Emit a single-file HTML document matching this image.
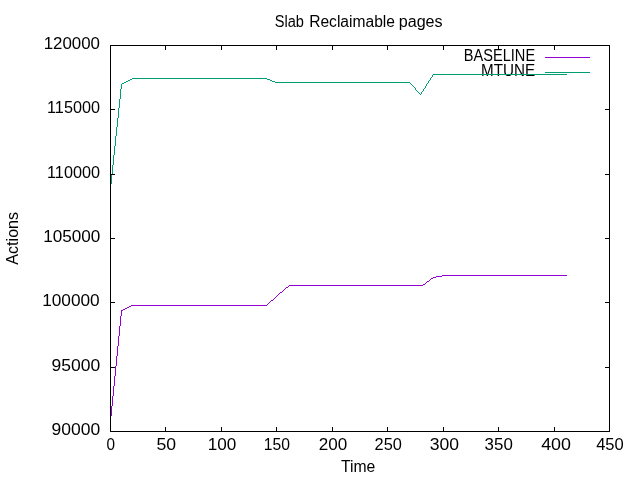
<!DOCTYPE html>
<html>
<head>
<meta charset="utf-8">
<title>Slab Reclaimable pages</title>
<style>
html,body{margin:0;padding:0;background:#fff;}
body{width:640px;height:480px;overflow:hidden;}
svg{display:block;will-change:transform;}
text{font-family:"Liberation Sans",sans-serif;fill:#000;}
</style>
</head>
<body>
<svg width="640" height="480" viewBox="0 0 640 480">
<rect x="0" y="0" width="640" height="480" fill="#ffffff"/>
<!-- title and axis labels -->
<text x="274.78" y="27.00" font-size="16" textLength="29.20" lengthAdjust="spacingAndGlyphs">Slab</text>
<text x="309.20" y="27.00" font-size="16" textLength="85.76" lengthAdjust="spacingAndGlyphs">Reclaimable</text>
<text x="398.72" y="27.00" font-size="16" textLength="43.88" lengthAdjust="spacingAndGlyphs">pages</text>
<text x="340.97" y="471.80" font-size="16" textLength="34.37" lengthAdjust="spacingAndGlyphs">Time</text>
<text transform="translate(18.30,264.64) rotate(-90)" font-size="16" textLength="52.68" lengthAdjust="spacingAndGlyphs">Actions</text>
<!-- y tick labels -->
<text x="51.61" y="434.70" font-size="16" textLength="48.68" lengthAdjust="spacingAndGlyphs">90000</text>
<text x="51.61" y="370.70" font-size="16" textLength="48.68" lengthAdjust="spacingAndGlyphs">95000</text>
<text x="42.15" y="305.70" font-size="16" textLength="57.50" lengthAdjust="spacingAndGlyphs">100000</text>
<text x="43.25" y="241.70" font-size="16" textLength="57.08" lengthAdjust="spacingAndGlyphs">105000</text>
<text x="47.05" y="177.70" font-size="16" textLength="52.91" lengthAdjust="spacingAndGlyphs">110000</text>
<text x="47.05" y="112.70" font-size="16" textLength="52.91" lengthAdjust="spacingAndGlyphs">115000</text>
<text x="43.67" y="48.70" font-size="16" textLength="56.33" lengthAdjust="spacingAndGlyphs">120000</text>
<!-- x tick labels -->
<text x="106.41" y="449.50" font-size="16" textLength="8.50" lengthAdjust="spacingAndGlyphs">0</text>
<text x="156.40" y="449.50" font-size="16" textLength="19.60" lengthAdjust="spacingAndGlyphs">50</text>
<text x="207.75" y="449.50" font-size="16" textLength="28.52" lengthAdjust="spacingAndGlyphs">100</text>
<text x="263.73" y="449.50" font-size="16" textLength="26.15" lengthAdjust="spacingAndGlyphs">150</text>
<text x="318.76" y="449.50" font-size="16" textLength="28.45" lengthAdjust="spacingAndGlyphs">200</text>
<text x="374.59" y="449.50" font-size="16" textLength="27.30" lengthAdjust="spacingAndGlyphs">250</text>
<text x="429.66" y="449.50" font-size="16" textLength="29.29" lengthAdjust="spacingAndGlyphs">300</text>
<text x="484.62" y="449.50" font-size="16" textLength="28.17" lengthAdjust="spacingAndGlyphs">350</text>
<text x="541.15" y="449.50" font-size="16" textLength="29.81" lengthAdjust="spacingAndGlyphs">400</text>
<text x="596.17" y="449.50" font-size="16" textLength="27.60" lengthAdjust="spacingAndGlyphs">450</text>
<!-- series 1: BASELINE -->
<text x="463.77" y="60.50" font-size="16" textLength="71.37" lengthAdjust="spacingAndGlyphs">BASELINE</text>
<path shape-rendering="crispEdges" fill="#9400d3" d="M110 416h1v6h-1zM111 406h1v10h-1zM112 396h1v10h-1zM113 386h1v10h-1zM114 376h1v10h-1zM115 366h1v10h-1zM116 356h1v10h-1zM117 346h1v10h-1zM118 336h1v10h-1zM119 326h1v10h-1zM120 316h1v10h-1zM121 310h2v1h-2zM121 311h1v5h-1zM123 309h2v1h-2zM125 308h2v1h-2zM127 307h2v1h-2zM129 306h2v1h-2zM131 305h136v1h-136zM267 304h1v1h-1zM268 303h1v1h-1zM269 302h1v1h-1zM270 301h1v1h-1zM271 300h2v1h-2zM273 299h1v1h-1zM274 298h1v1h-1zM275 297h1v1h-1zM276 296h1v1h-1zM277 295h1v1h-1zM278 294h1v1h-1zM279 293h1v1h-1zM280 292h2v1h-2zM282 291h1v1h-1zM283 290h1v1h-1zM284 289h1v1h-1zM285 288h1v1h-1zM286 287h2v1h-2zM288 286h1v1h-1zM289 285h134v1h-134zM423 284h2v1h-2zM425 283h1v1h-1zM426 282h1v1h-1zM427 281h2v1h-2zM429 280h1v1h-1zM430 279h1v1h-1zM431 278h2v1h-2zM433 277h3v1h-3zM436 276h6v1h-6zM442 275h125v1h-125zM545 57h45v1h-45z"/>
<!-- series 2: MTUNE -->
<text x="480.98" y="75.50" font-size="16" textLength="54.08" lengthAdjust="spacingAndGlyphs">MTUNE</text>
<path shape-rendering="crispEdges" fill="#009e73" d="M110 184h1v5h-1zM111 174h1v10h-1zM112 165h1v9h-1zM113 155h1v10h-1zM114 146h1v9h-1zM115 136h1v10h-1zM116 127h1v9h-1zM117 118h1v9h-1zM118 108h1v10h-1zM119 99h1v9h-1zM120 89h1v10h-1zM121 84h1v5h-1zM122 83h2v1h-2zM124 82h2v1h-2zM126 81h2v1h-2zM128 80h2v1h-2zM130 79h2v1h-2zM132 78h135v1h-135zM267 79h3v1h-3zM270 80h2v1h-2zM272 81h3v1h-3zM275 82h135v1h-135zM410 83h1v1h-1zM411 84h1v1h-1zM412 85h1v1h-1zM413 86h1v1h-1zM414 87h1v1h-1zM415 88h1v2h-1zM416 90h1v1h-1zM417 91h1v1h-1zM418 92h1v1h-1zM419 93h1v1h-1zM420 94h1v1h-1zM421 92h1v2h-1zM422 91h1v1h-1zM423 89h1v2h-1zM424 88h1v1h-1zM425 86h1v2h-1zM426 84h1v2h-1zM427 83h1v1h-1zM428 81h1v2h-1zM429 80h1v1h-1zM430 78h1v2h-1zM431 77h1v1h-1zM432 75h1v2h-1zM433 74h134v1h-134zM545 72h45v1h-45z"/>
<!-- border + tics (front layer) -->
<path shape-rendering="crispEdges" fill="#000000" d="M110 45h500v1h-500zM110 431h500v1h-500zM110 45h1v387h-1zM609 45h1v387h-1zM110 427h1v5h-1zM110 45h1v5h-1zM165 427h1v5h-1zM165 45h1v5h-1zM221 427h1v5h-1zM221 45h1v5h-1zM276 427h1v5h-1zM276 45h1v5h-1zM332 427h1v5h-1zM332 45h1v5h-1zM387 427h1v5h-1zM387 45h1v5h-1zM443 427h1v5h-1zM443 45h1v5h-1zM498 427h1v5h-1zM498 45h1v5h-1zM554 427h1v5h-1zM554 45h1v5h-1zM609 427h1v5h-1zM609 45h1v5h-1zM110 431h5v1h-5zM605 431h5v1h-5zM110 367h5v1h-5zM605 367h5v1h-5zM110 302h5v1h-5zM605 302h5v1h-5zM110 238h5v1h-5zM605 238h5v1h-5zM110 174h5v1h-5zM605 174h5v1h-5zM110 109h5v1h-5zM605 109h5v1h-5zM110 45h5v1h-5zM605 45h5v1h-5z"/>
</svg>
</body>
</html>
